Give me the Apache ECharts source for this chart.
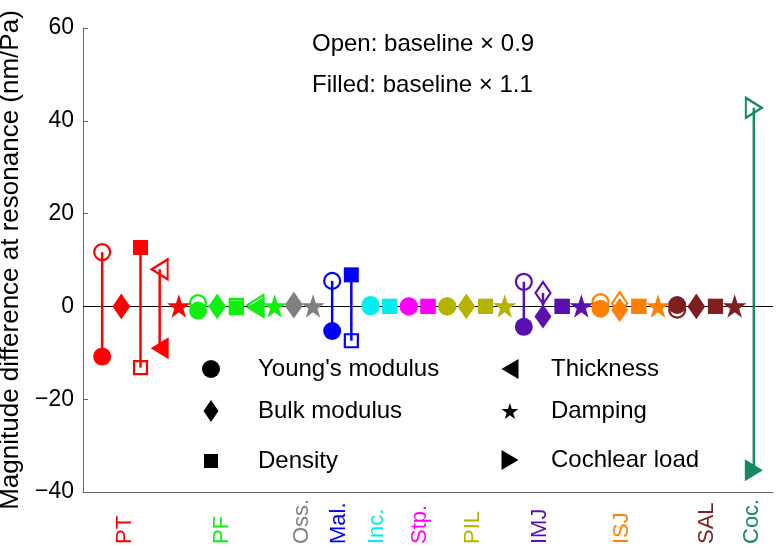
<!DOCTYPE html>
<html>
<head>
<meta charset="utf-8">
<script src="https://cdn.jsdelivr.net/npm/echarts@6/dist/echarts.min.js"></script>
<style>html,body{margin:0;padding:0;background:#fff}#chart{width:776px;height:549px}</style>
</head>
<body>
<div id="chart"></div>
<script>
// ---- data ----
const groups = ['PT', 'PF', 'Oss.', 'Mal.', 'Inc.', 'Stp.', 'PIL', 'IMJ', 'ISJ', 'SAL', 'Coc.'];
const groupColors = ['#ff0000', '#11ee11', '#808080', '#0000ff', '#00eeee', '#ff00ff', '#b3b300', '#5a10b0', '#ff8000', '#7f2020', '#168a5e'];
const groupLabelAt = [2.2, 7.23, 11.41, 13.37, 15.32, 17.58, 20.36, 23.84, 28.1, 32.54, 34.88];
const properties = ["Young's modulus", 'Bulk modulus', 'Density', 'Thickness', 'Damping', 'Cochlear load'];
// one entry per marker position (x index = position in list + 1)
const markerGroup = [0,0,0,0,0, 1,1,1,1,1, 2,2, 3,3, 4,4, 5,5, 6,6,6,6, 7,7,7,7, 8,8,8,8, 9,9,9,9, 10];
const markerProp  = [0,1,2,3,4, 0,1,2,3,4, 1,4, 0,2, 0,2, 0,2, 0,1,2,4, 0,1,2,4, 0,1,2,4, 0,1,2,4, 5];
const openValues   = [11.7,0,-13.2,8.0,0, 0.7,0,0.2,0.3,0, 0.4,0, 5.5,-7.4, 0.3,0, 0,0, 0,0,0,0, 5.3,2.9,0,0, 0.9,0.7,0,0, -0.7,0,0,0, 42.8];
const filledValues = [-10.8,0,12.7,-9.0,0, -0.9,0,-0.3,-0.3,0, 0,0, -5.3,6.8, 0,0, 0,0, 0,0,0,0, -4.4,-2.2,0,0, -0.5,-0.8,0,0, 0.3,0,0,0, -35.3];
const yTicks = [-40, -20, 0, 20, 40, 60];

// ---- styles ----
const STAR = 'path://M50,0L61.23,34.55L97.55,34.55L68.17,55.9L79.39,90.45L50,69.1L20.61,90.45L31.83,55.9L2.45,34.55L38.77,34.55Z';
const propSymbol = ['circle', 'diamond', 'rect', 'triangle', STAR, 'triangle'];
const propRotate = [0, 0, 0, 90, 0, -90];
const propSize = [[18,18], [17,24], [15,15], [22,18], [19,19], [22,18]];
const openSize = [[16,16], [15,22], [13,13], [20,16], [17,17], [20,16]];
const legendIcons = [
  'circle',
  'path://M7.5,0L15,11L7.5,22L0,11Z',
  'path://M0,0H10V10H0Z',
  'path://M0,10L17,0L17,20Z',
  STAR,
  'path://M17,10L0,0L0,20Z'
];
const legendIconH = [18, 22, 14, 20, 16, 20];
const legendIconW = [18, 15, 14, 17, 17, 17];
const legendCenters = [[211,369],[211,411],[211,461],[510,369],[510,411],[510,460]];
const FONT = '"Liberation Sans", Arial, sans-serif';

const series = [];
// connecting lines between open and filled values
series.push({
  type: 'custom',
  name: 'links',
  z: 2,
  silent: true,
  encode: { x: 0, y: [1, 2] },
  data: openValues.map((v, i) => [i + 1, v, filledValues[i], markerGroup[i]]),
  renderItem: function (params, api) {
    const p1 = api.coord([api.value(0), api.value(1)]);
    const p2 = api.coord([api.value(0), api.value(2)]);
    return {
      type: 'line',
      shape: { x1: p1[0], y1: p1[1], x2: p2[0], y2: p2[1] },
      style: { stroke: groupColors[api.value(3)], lineWidth: 2.5 }
    };
  },
  markLine: {
    silent: true, z: 1, symbol: ['none', 'none'], label: { show: false },
    lineStyle: { color: '#000', width: 1, type: 'solid', opacity: 1 },
    data: [{ yAxis: 0 }]
  }
});
properties.forEach((p, pi) => {
  const idx = [];
  markerProp.forEach((mp, i) => { if (mp === pi) idx.push(i); });
  series.push({
    type: 'scatter', name: p + ' (open)', z: 3, silent: true,
    symbol: propSymbol[pi], symbolRotate: propRotate[pi], symbolSize: openSize[pi],
    itemStyle: { opacity: 1 },
    data: idx.map(i => ({ value: [i + 1, openValues[i]], itemStyle: { color: 'transparent', borderColor: groupColors[markerGroup[i]], borderWidth: 2.2, opacity: 1 } }))
  });
  series.push({
    type: 'scatter', name: p, z: 4, silent: true,
    symbol: propSymbol[pi], symbolRotate: propRotate[pi], symbolSize: propSize[pi],
    itemStyle: { color: '#000', opacity: 1 },
    data: idx.map(i => ({ value: [i + 1, filledValues[i]], itemStyle: { color: groupColors[markerGroup[i]], opacity: 1 } }))
  });
});

const rich = {};
groups.forEach((g, i) => { rich['g' + i] = { color: groupColors[i], fontSize: 22, fontFamily: FONT }; });

const legends = properties.map((p, pi) => {
  const col2 = pi >= 3;
  const iw = col2 ? 72 : 84;
  return {
    show: true, orient: 'vertical', selectedMode: false, padding: 0,
    symbolKeepAspect: true,
    itemWidth: iw, itemHeight: legendIconH[pi],
    left: legendCenters[pi][0] - legendIconW[pi] / 2,
    top: legendCenters[pi][1] - 12,
    textStyle: { fontSize: 24, color: '#000', fontFamily: FONT },
    data: [{ name: p, icon: legendIcons[pi], itemStyle: { color: '#000', borderWidth: 0, opacity: 1 } }]
  };
});

const option = {
  animation: false,
  textStyle: { fontFamily: FONT },
  title: [
    { text: 'Open: baseline × 0.9', left: 312, top: 32, padding: 0, textStyle: { fontSize: 24, fontWeight: 'normal', color: '#000', fontFamily: FONT } },
    { text: 'Filled: baseline × 1.1', left: 312, top: 73, padding: 0, textStyle: { fontSize: 24, fontWeight: 'normal', color: '#000', fontFamily: FONT } }
  ],
  legend: legends,
  grid: { left: 83, right: 3, top: 28, bottom: 57, outerBoundsMode: 'none' },
  xAxis: {
    type: 'value', min: 0, max: 36,
    splitLine: { show: false },
    axisLine: { show: true, onZero: false, lineStyle: { color: '#666', width: 1 } },
    axisTick: { show: false },
    axisLabel: {
      customValues: groupLabelAt,
      rotate: 90, align: 'left', margin: 52,
      formatter: function (v) {
        let best = 0, d = Infinity;
        groupLabelAt.forEach((x, i) => { if (Math.abs(x - v) < d) { d = Math.abs(x - v); best = i; } });
        return '{g' + best + '|' + groups[best] + '}';
      },
      rich: rich
    }
  },
  yAxis: {
    type: 'value', min: yTicks[0], max: yTicks[yTicks.length - 1], interval: 20,
    name: 'Magnitude difference at resonance (nm/Pa)',
    nameLocation: 'middle', nameGap: 52,
    nameTextStyle: { fontSize: 26, color: '#000', fontFamily: FONT },
    splitLine: { show: false },
    axisLine: { show: true, lineStyle: { color: '#666', width: 1 } },
    axisTick: { show: true, inside: true, length: 5, lineStyle: { color: '#666' } },
    axisLabel: { fontSize: 23, color: '#000', margin: 9, fontFamily: FONT,
      formatter: v => (v < 0 ? '\u2212' + Math.abs(v) : String(v)) }
  },
  series: series
};
const chart = echarts.init(document.getElementById('chart'));
chart.setOption(option);
</script>
</body>
</html>
